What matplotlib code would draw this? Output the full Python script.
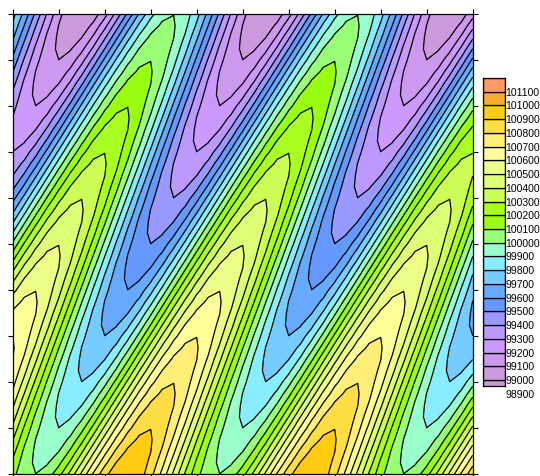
import matplotlib
matplotlib.use("Agg")
import matplotlib.pyplot as plt
import numpy as np
from matplotlib.colors import ListedColormap, BoundaryNorm
import matplotlib.transforms as mtransforms

# grid coordinates (data units, ticks 0..10, step 0.25)
grid_x = np.linspace(0, 10, 41)
grid_y = np.linspace(0, 10, 41)

base_value = 100000
# offsets from base_value, rows from bottom (y=0) to top (y=10)
offset_rows = [
    [130,30,1,48,164,331,524,713,870,970,999,952,836,669,476,287,130,30,1,48,164,331,524,713,870,970,999,952,836,669,476,287,130,30,1,48,164,331,524,713,870],
    [178,47,-19,-10,73,217,401,596,772,903,969,960,877,733,549,354,178,47,-19,-10,73,217,401,596,772,903,969,960,877,733,549,354,178,47,-19,-10,73,217,401,596,772],
    [237,80,-20,-49,-2,114,281,474,663,820,920,949,902,786,619,426,237,80,-20,-49,-2,114,281,474,663,820,920,949,902,786,619,426,237,80,-20,-49,-2,114,281,474,663],
    [304,128,-3,-69,-60,23,167,351,546,722,853,919,910,827,683,499,304,128,-3,-69,-60,23,167,351,546,722,853,919,910,827,683,499,304,128,-3,-69,-60,23,167,351,546],
    [376,187,30,-70,-99,-52,64,231,424,613,770,870,899,852,736,569,376,187,30,-70,-99,-52,64,231,424,613,770,870,899,852,736,569,376,187,30,-70,-99,-52,64,231,424],
    [449,254,78,-53,-119,-110,-27,117,301,496,672,803,869,860,777,633,449,254,78,-53,-119,-110,-27,117,301,496,672,803,869,860,777,633,449,254,78,-53,-119,-110,-27,117,301],
    [519,326,137,-20,-120,-149,-102,14,181,374,563,720,820,849,802,686,519,326,137,-20,-120,-149,-102,14,181,374,563,720,820,849,802,686,519,326,137,-20,-120,-149,-102,14,181],
    [583,399,204,28,-103,-169,-160,-77,67,251,446,622,753,819,810,727,583,399,204,28,-103,-169,-160,-77,67,251,446,622,753,819,810,727,583,399,204,28,-103,-169,-160,-77,67],
    [636,469,276,87,-70,-170,-199,-152,-36,131,324,513,670,770,799,752,636,469,276,87,-70,-170,-199,-152,-36,131,324,513,670,770,799,752,636,469,276,87,-70,-170,-199,-152,-36],
    [677,533,349,154,-22,-153,-219,-210,-127,17,201,396,572,703,769,760,677,533,349,154,-22,-153,-219,-210,-127,17,201,396,572,703,769,760,677,533,349,154,-22,-153,-219,-210,-127],
    [702,586,419,226,37,-120,-220,-249,-202,-86,81,274,463,620,720,749,702,586,419,226,37,-120,-220,-249,-202,-86,81,274,463,620,720,749,702,586,419,226,37,-120,-220,-249,-202],
    [710,627,483,299,104,-72,-203,-269,-260,-177,-33,151,346,522,653,719,710,627,483,299,104,-72,-203,-269,-260,-177,-33,151,346,522,653,719,710,627,483,299,104,-72,-203,-269,-260],
    [699,652,536,369,176,-13,-170,-270,-299,-252,-136,31,224,413,570,670,699,652,536,369,176,-13,-170,-270,-299,-252,-136,31,224,413,570,670,699,652,536,369,176,-13,-170,-270,-299],
    [669,660,577,433,249,54,-122,-253,-319,-310,-227,-83,101,296,472,603,669,660,577,433,249,54,-122,-253,-319,-310,-227,-83,101,296,472,603,669,660,577,433,249,54,-122,-253,-319],
    [620,649,602,486,319,126,-63,-220,-320,-349,-302,-186,-19,174,363,520,620,649,602,486,319,126,-63,-220,-320,-349,-302,-186,-19,174,363,520,620,649,602,486,319,126,-63,-220,-320],
    [553,619,610,527,383,199,4,-172,-303,-369,-360,-277,-133,51,246,422,553,619,610,527,383,199,4,-172,-303,-369,-360,-277,-133,51,246,422,553,619,610,527,383,199,4,-172,-303],
    [470,570,599,552,436,269,76,-113,-270,-370,-399,-352,-236,-69,124,313,470,570,599,552,436,269,76,-113,-270,-370,-399,-352,-236,-69,124,313,470,570,599,552,436,269,76,-113,-270],
    [372,503,569,560,477,333,149,-46,-222,-353,-419,-410,-327,-183,1,196,372,503,569,560,477,333,149,-46,-222,-353,-419,-410,-327,-183,1,196,372,503,569,560,477,333,149,-46,-222],
    [263,420,520,549,502,386,219,26,-163,-320,-420,-449,-402,-286,-119,74,263,420,520,549,502,386,219,26,-163,-320,-420,-449,-402,-286,-119,74,263,420,520,549,502,386,219,26,-163],
    [146,322,453,519,510,427,283,99,-96,-272,-403,-469,-460,-377,-233,-49,146,322,453,519,510,427,283,99,-96,-272,-403,-469,-460,-377,-233,-49,146,322,453,519,510,427,283,99,-96],
    [24,213,370,470,499,452,336,169,-24,-213,-370,-470,-499,-452,-336,-169,24,213,370,470,499,452,336,169,-24,-213,-370,-470,-499,-452,-336,-169,24,213,370,470,499,452,336,169,-24],
    [-99,96,272,403,469,460,377,233,49,-146,-322,-453,-519,-510,-427,-283,-99,96,272,403,469,460,377,233,49,-146,-322,-453,-519,-510,-427,-283,-99,96,272,403,469,460,377,233,49],
    [-219,-26,163,320,420,449,402,286,119,-74,-263,-420,-520,-549,-502,-386,-219,-26,163,320,420,449,402,286,119,-74,-263,-420,-520,-549,-502,-386,-219,-26,163,320,420,449,402,286,119],
    [-333,-149,46,222,353,419,410,327,183,-1,-196,-372,-503,-569,-560,-477,-333,-149,46,222,353,419,410,327,183,-1,-196,-372,-503,-569,-560,-477,-333,-149,46,222,353,419,410,327,183],
    [-436,-269,-76,113,270,370,399,352,236,69,-124,-313,-470,-570,-599,-552,-436,-269,-76,113,270,370,399,352,236,69,-124,-313,-470,-570,-599,-552,-436,-269,-76,113,270,370,399,352,236],
    [-527,-383,-199,-4,172,303,369,360,277,133,-51,-246,-422,-553,-619,-610,-527,-383,-199,-4,172,303,369,360,277,133,-51,-246,-422,-553,-619,-610,-527,-383,-199,-4,172,303,369,360,277],
    [-602,-486,-319,-126,63,220,320,349,302,186,19,-174,-363,-520,-620,-649,-602,-486,-319,-126,63,220,320,349,302,186,19,-174,-363,-520,-620,-649,-602,-486,-319,-126,63,220,320,349,302],
    [-660,-577,-433,-249,-54,122,253,319,310,227,83,-101,-296,-472,-603,-669,-660,-577,-433,-249,-54,122,253,319,310,227,83,-101,-296,-472,-603,-669,-660,-577,-433,-249,-54,122,253,319,310],
    [-699,-652,-536,-369,-176,13,170,270,299,252,136,-31,-224,-413,-570,-670,-699,-652,-536,-369,-176,13,170,270,299,252,136,-31,-224,-413,-570,-670,-699,-652,-536,-369,-176,13,170,270,299],
    [-719,-710,-627,-483,-299,-104,72,203,269,260,177,33,-151,-346,-522,-653,-719,-710,-627,-483,-299,-104,72,203,269,260,177,33,-151,-346,-522,-653,-719,-710,-627,-483,-299,-104,72,203,269],
    [-720,-749,-702,-586,-419,-226,-37,120,220,249,202,86,-81,-274,-463,-620,-720,-749,-702,-586,-419,-226,-37,120,220,249,202,86,-81,-274,-463,-620,-720,-749,-702,-586,-419,-226,-37,120,220],
    [-703,-769,-760,-677,-533,-349,-154,22,153,219,210,127,-17,-201,-396,-572,-703,-769,-760,-677,-533,-349,-154,22,153,219,210,127,-17,-201,-396,-572,-703,-769,-760,-677,-533,-349,-154,22,153],
    [-670,-770,-799,-752,-636,-469,-276,-87,70,170,199,152,36,-131,-324,-513,-670,-770,-799,-752,-636,-469,-276,-87,70,170,199,152,36,-131,-324,-513,-670,-770,-799,-752,-636,-469,-276,-87,70],
    [-622,-753,-819,-810,-727,-583,-399,-204,-28,103,169,160,77,-67,-251,-446,-622,-753,-819,-810,-727,-583,-399,-204,-28,103,169,160,77,-67,-251,-446,-622,-753,-819,-810,-727,-583,-399,-204,-28],
    [-563,-720,-820,-849,-802,-686,-519,-326,-137,20,120,149,102,-14,-181,-374,-563,-720,-820,-849,-802,-686,-519,-326,-137,20,120,149,102,-14,-181,-374,-563,-720,-820,-849,-802,-686,-519,-326,-137],
    [-496,-672,-803,-869,-860,-777,-633,-449,-254,-78,53,119,110,27,-117,-301,-496,-672,-803,-869,-860,-777,-633,-449,-254,-78,53,119,110,27,-117,-301,-496,-672,-803,-869,-860,-777,-633,-449,-254],
    [-424,-613,-770,-870,-899,-852,-736,-569,-376,-187,-30,70,99,52,-64,-231,-424,-613,-770,-870,-899,-852,-736,-569,-376,-187,-30,70,99,52,-64,-231,-424,-613,-770,-870,-899,-852,-736,-569,-376],
    [-351,-546,-722,-853,-919,-910,-827,-683,-499,-304,-128,3,69,60,-23,-167,-351,-546,-722,-853,-919,-910,-827,-683,-499,-304,-128,3,69,60,-23,-167,-351,-546,-722,-853,-919,-910,-827,-683,-499],
    [-281,-474,-663,-820,-920,-949,-902,-786,-619,-426,-237,-80,20,49,2,-114,-281,-474,-663,-820,-920,-949,-902,-786,-619,-426,-237,-80,20,49,2,-114,-281,-474,-663,-820,-920,-949,-902,-786,-619],
    [-217,-401,-596,-772,-903,-969,-960,-877,-733,-549,-354,-178,-47,19,10,-73,-217,-401,-596,-772,-903,-969,-960,-877,-733,-549,-354,-178,-47,19,10,-73,-217,-401,-596,-772,-903,-969,-960,-877,-733],
    [-164,-331,-524,-713,-870,-970,-999,-952,-836,-669,-476,-287,-130,-30,-1,-48,-164,-331,-524,-713,-870,-970,-999,-952,-836,-669,-476,-287,-130,-30,-1,-48,-164,-331,-524,-713,-870,-970,-999,-952,-836],
]

levels = list(range(98900, 101201, 100))
level_labels = list(range(98900, 101101, 100))
band_colors = [
    "#CC99CC", "#CC99DD", "#CC99EE", "#CC99FF", "#BB99FF", "#9999FF",
    "#6699FF", "#66AAFF", "#77CCFF", "#88EEFF", "#99FFCC", "#99FF77",
    "#99FF11", "#AAFF22", "#CCFF55", "#DDFF77", "#EEFF88", "#FFFF99",
    "#FFEE77", "#FFDD44", "#FFCC11", "#FFAA33", "#FF9966",
]

z = base_value + np.array(offset_rows, dtype=float)

W, H = 540, 477
fig = plt.figure(figsize=(W / 100, H / 100), dpi=100)
ax = fig.add_axes([12.7 / W, 1.7 / H, 460 / W, 460 / H])
cmap = ListedColormap(band_colors)
norm = BoundaryNorm(levels, cmap.N)
ax.contourf(grid_x, grid_y, z, levels=levels, cmap=cmap, norm=norm)
ax.contour(grid_x, grid_y, z, levels=levels, colors="black", linewidths=0.9)
ax.set_xlim(0, 10)
ax.set_ylim(0, 10)
ax.set_xticks(range(11))
ax.set_yticks(range(11))
ax.set_xticklabels([])
ax.set_yticklabels([])
ax.tick_params(direction="out", length=3.8, width=0.8, top=True, right=True,
               bottom=True, left=True, colors="black")
for s in ax.spines.values():
    s.set_linewidth(0.9)

cax = fig.add_axes([483 / W, (H - 387) / H, 21.5 / W, 308 / H])
cax.set_xlim(0, 1)
cax.set_ylim(98956, 101200)
for lo, c in zip(levels[:-1], band_colors):
    cax.bar(0.5, 100, bottom=lo, width=1, color=c, edgecolor="black", linewidth=0.9)
cax.set_xticks([])
cax.set_yticks([])
for s in cax.spines.values():
    s.set_linewidth(0.9)
trans = mtransforms.blended_transform_factory(cax.transAxes, cax.transData)
for v in level_labels:
    cax.text(1.05, v, str(v), transform=trans, ha="left", va="center",
             fontsize=7.5, family=["Liberation Sans", "DejaVu Sans"], clip_on=False)

fig.savefig("out.png", dpi=100)
